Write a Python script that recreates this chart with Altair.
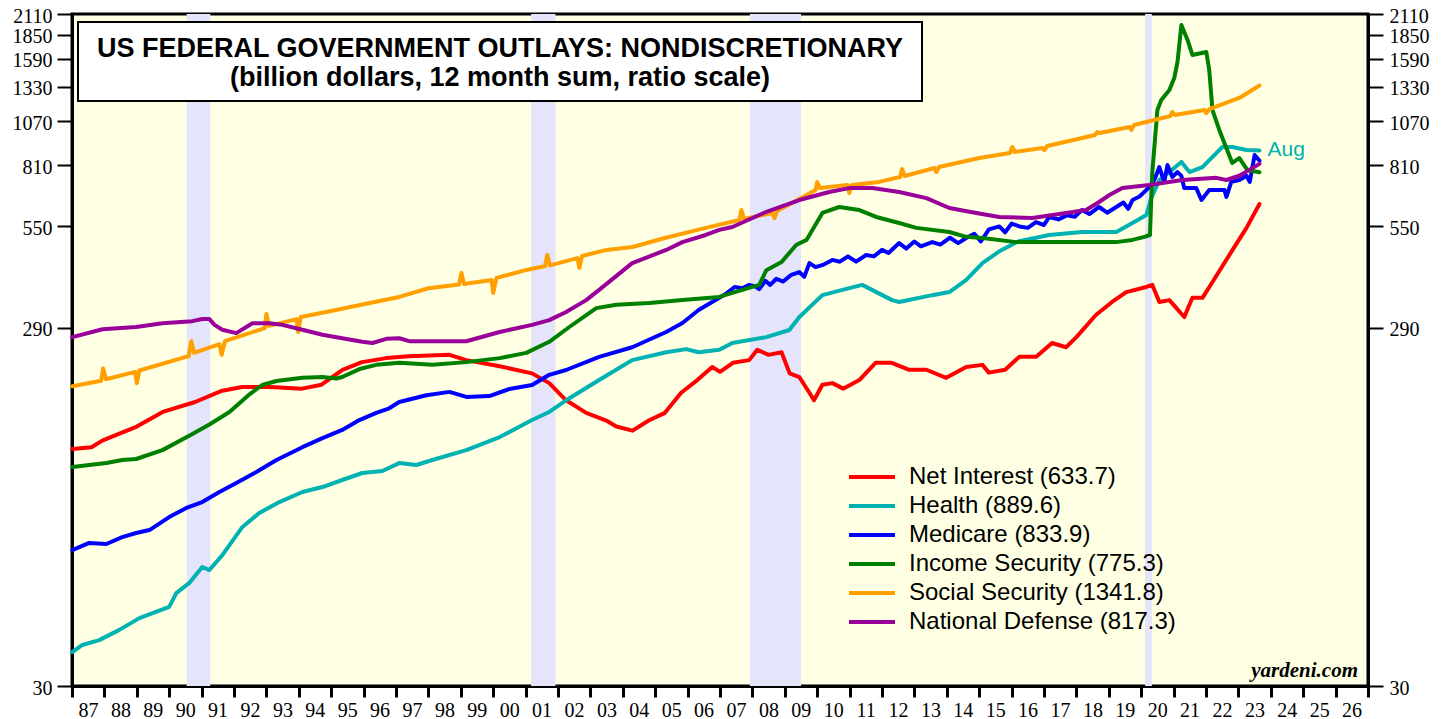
import altair as alt
import pandas as pd

# ---------------- data ----------------
SERIES = ["Net Interest (633.7)", "Health (889.6)", "Medicare (833.9)",
          "Income Security (775.3)", "Social Security (1341.8)", "National Defense (817.3)"]
COLORS = ["#FF0000", "#00B2B2", "#0000FF", "#008000", "#FFA000", "#990099"]

ni_year = [1987.01, 1987.6, 1987.95, 1989.0, 1989.8, 1990.8, 1991.6, 1992.25, 1993.1, 1994.1,
           1994.7, 1995.35, 1995.95, 1996.7, 1997.4, 1998.65, 1999.17, 2000.2, 2001.2, 2001.73,
           2002.25, 2002.87, 2003.49, 2003.8, 2004.3, 2004.8, 2005.3, 2005.8, 2006.3, 2006.76,
           2007.0, 2007.4, 2007.9, 2008.15, 2008.5, 2008.9, 2009.15, 2009.45, 2009.76, 2009.9,
           2010.16, 2010.47, 2010.8, 2011.3, 2011.8, 2012.3, 2012.84, 2013.37, 2013.98, 2014.6,
           2015.1, 2015.3, 2015.8, 2016.24, 2016.76, 2017.25, 2017.68, 2018.0, 2018.6, 2019.1,
           2019.54, 2020.16, 2020.34, 2020.56, 2020.87, 2021.33, 2021.58, 2021.89, 2022.2, 2022.82,
           2023.25, 2023.65]
ni_val = [134.5, 136, 142, 155, 170, 181, 194, 199, 199, 197,
          202, 222, 233, 239, 242, 244, 236, 227, 217, 204,
          183, 169, 161, 155, 151, 161, 169, 192, 208, 226,
          219, 232, 236, 252, 244, 248, 217, 212, 192, 183,
          202, 204, 197, 208, 232, 232, 222, 222, 211, 226,
          229, 218, 222, 241, 241, 263, 256, 273, 314, 341,
          363, 375, 380, 341, 345, 310, 350, 350, 387, 474,
          545, 633.7]

hc_year = [1987.01, 1987.32, 1987.84, 1988.46, 1989.08, 1990.0, 1990.22, 1990.62, 1991.02, 1991.24,
           1991.64, 1992.26, 1992.78, 1993.4, 1994.11, 1994.73, 1995.34, 1995.96, 1996.58, 1997.1,
           1997.63, 1998.12, 1999.17, 2000.2, 2001.2, 2001.73, 2002.25, 2003.27, 2004.29, 2005.34,
           2005.96, 2006.34, 2006.98, 2007.38, 2008.43, 2009.14, 2009.45, 2010.16, 2010.78, 2011.39,
           2012.31, 2012.53, 2013.55, 2014.08, 2014.6, 2015.1, 2015.62, 2016.2, 2017.16, 2018.17,
           2019.23, 2019.73, 2020.16, 2020.31, 2020.56, 2020.87, 2021.24, 2021.49, 2021.89, 2022.5,
           2022.81, 2023.25, 2023.65]
hc_val = [37.2, 38.9, 40.1, 42.8, 46.1, 49.5, 54.0, 57.6, 63.7, 62.5,
          68.7, 82.1, 89.7, 96.1, 102.4, 105.7, 110.5, 115.5, 117, 123,
          121.5, 125.4, 133.5, 145, 161.5, 170, 183, 208, 236, 248,
          253, 248, 252, 263, 273, 285.5, 310, 356, 368, 380,
          345, 341, 356, 363, 392, 436, 470, 500, 521, 531,
          531, 562, 591, 658, 738, 776, 827, 776, 801, 909,
          909, 892, 889.6]

mc_year = [1987.01, 1987.53, 1988.06, 1988.55, 1988.98, 1989.39, 1990.0, 1990.53, 1991.02, 1991.55,
           1992.07, 1992.69, 1993.31, 1994.11, 1994.73, 1995.34, 1995.87, 1996.39, 1996.79, 1997.1,
           1997.94, 1998.65, 1999.17, 1999.88, 2000.5, 2001.2, 2001.73, 2002.25, 2003.27, 2004.29,
           2005.34, 2005.84, 2006.34, 2006.9, 2007.2, 2007.45, 2007.69, 2007.9, 2008.1, 2008.21,
           2008.4, 2008.55, 2008.74, 2008.95, 2009.2, 2009.45, 2009.6, 2009.76, 2009.95, 2010.2,
           2010.47, 2010.7, 2010.95, 2011.2, 2011.51, 2011.75, 2012.0, 2012.2, 2012.53, 2012.75,
           2013.0, 2013.2, 2013.55, 2013.8, 2014.1, 2014.35, 2014.6, 2014.85, 2015.05, 2015.3,
           2015.62, 2015.8, 2016.0, 2016.24, 2016.5, 2016.75, 2017.0, 2017.16, 2017.45, 2017.7,
           2017.95, 2018.17, 2018.4, 2018.7, 2018.95, 2019.23, 2019.45, 2019.6, 2019.73, 2019.95,
           2020.16, 2020.25, 2020.41, 2020.56, 2020.71, 2020.81, 2020.96, 2021.12, 2021.24, 2021.33,
           2021.7, 2021.86, 2022.1, 2022.57, 2022.63, 2022.78, 2023.03, 2023.25, 2023.35, 2023.5,
           2023.65]
mc_val = [70.9, 74.2, 73.7, 77, 79, 80.5, 87.4, 92.6, 96.1, 102.4,
          108.4, 116.2, 125.4, 136, 144, 151.7, 161.5, 169, 174, 181,
          189, 193, 187, 188, 196.6, 201.6, 215, 221.7, 241, 256,
          282, 298.5, 324, 347, 360, 375, 372, 380, 376, 370,
          390, 380, 395, 388, 405, 412, 400, 436, 425, 432,
          445, 440, 455, 440, 459, 455, 474, 465, 495, 478,
          500, 485, 498, 490, 512, 495, 511, 525, 500, 540,
          550, 530, 560, 550, 545, 565, 555, 584, 575, 590,
          585, 610, 595, 622, 600, 622, 640, 615, 650, 665,
          693, 706, 740, 801, 729, 811, 752, 776, 757, 701,
          701, 650, 693, 693, 663, 729, 738, 758, 729, 864,
          833.9]

is_year = [1987.01, 1987.53, 1988.06, 1988.55, 1988.98, 1989.79, 1990.66, 1991.24, 1991.86, 1992.48,
           1992.87, 1993.31, 1994.11, 1994.73, 1995.16, 1995.34, 1995.87, 1996.39, 1997.1, 1998.12,
           1999.17, 2000.2, 2001.02, 2001.73, 2002.35, 2003.18, 2003.8, 2004.82, 2005.84, 2006.98,
           2007.38, 2008.21, 2008.43, 2008.9, 2009.35, 2009.67, 2010.16, 2010.68, 2011.3, 2011.82,
           2012.53, 2013.06, 2014.08, 2014.6, 2015.1, 2016.15, 2017.16, 2018.17, 2019.23, 2019.73,
           2020.1, 2020.27, 2020.34, 2020.5, 2020.62, 2020.87, 2021.02, 2021.12, 2021.24, 2021.43,
           2021.58, 2022.01, 2022.1, 2022.2, 2022.41, 2022.81, 2023.03, 2023.28, 2023.65]
is_val = [120, 121.5, 123, 125.4, 126.2, 133.5, 147, 157, 170, 190,
          201.6, 206.8, 211, 212, 210, 212, 223, 229, 232, 229,
          233, 239, 247, 265, 291, 328, 335, 339, 345, 352,
          361, 380, 417, 439, 489, 505, 599, 622, 610, 584,
          562, 545, 531, 515, 511, 498, 498, 498, 498, 505,
          515, 521, 771, 1149, 1225, 1304, 1407, 1557, 1968, 1790,
          1628, 1659, 1480, 1149, 1013, 822, 848, 786, 775.3]

ss_year = [1987.01, 1987.9, 1987.96, 1988.05, 1988.95, 1989.0, 1989.08, 1990.6, 1990.68, 1990.77,
           1991.55, 1991.62, 1991.72, 1992.95, 1993.0, 1993.08, 1993.93, 1993.98, 1994.06, 1995.0,
           1996.0, 1997.1, 1998.0, 1998.95, 1999.02, 1999.1, 1999.95, 2000.0, 2000.1, 2001.0,
           2001.6, 2001.67, 2001.75, 2002.6, 2002.66, 2002.74, 2003.5, 2004.3, 2005.3, 2006.56,
           2007.6, 2007.66, 2007.74, 2008.62, 2008.68, 2008.76, 2009.67, 2009.95, 2010.0, 2010.08,
           2010.94, 2010.99, 2011.07, 2011.91, 2012.56, 2012.62, 2012.7, 2013.62, 2013.68, 2013.76,
           2015.0, 2015.95, 2016.02, 2016.1, 2016.95, 2017.01, 2017.1, 2018.58, 2018.64, 2018.72,
           2019.64, 2019.7, 2019.78, 2020.9, 2020.96, 2021.04, 2021.95, 2022.01, 2022.1, 2023.03,
           2023.65]
ss_val = [200, 207, 224, 209, 219, 204, 221, 242, 266, 247,
          261, 244, 266, 289, 316, 293, 306, 282, 310, 322,
          336, 352, 372, 381, 410, 382, 392, 361, 397, 417,
          428, 459, 430, 450, 423, 456, 474, 483, 511, 545,
          573, 610, 577, 599, 580, 606, 671, 693, 729, 701,
          715, 680, 715, 729, 752, 791, 757, 796, 776, 801,
          848, 875, 909, 881, 904, 892, 915, 981, 1000, 993,
          1032, 1013, 1045, 1106, 1135, 1113, 1149, 1127, 1156, 1240,
          1341.8]

nd_year = [1987.01, 1987.94, 1988.98, 1989.79, 1990.71, 1991.02, 1991.24, 1991.4, 1991.64, 1992.07,
           1992.57, 1993.09, 1993.49, 1994.11, 1994.73, 1995.34, 1995.96, 1996.27, 1996.7, 1997.1,
           1997.41, 1998.12, 1999.17, 2000.2, 2001.2, 2001.73, 2002.25, 2002.87, 2003.27, 2004.29,
           2005.34, 2005.84, 2006.56, 2006.98, 2007.38, 2008.43, 2009.45, 2010.37, 2010.99, 2011.7,
           2012.53, 2013.37, 2014.08, 2014.91, 2015.62, 2016.64, 2017.68, 2018.3, 2018.7, 2019.02,
           2019.42, 2020.25, 2021.27, 2022.32, 2022.63, 2023.03, 2023.65]
nd_val = [273, 287, 291, 298, 302, 306, 306, 295, 286, 280,
          298, 298, 295, 286, 277, 271, 265, 263, 270, 271,
          266, 266, 266, 282, 295, 304, 320, 345, 368, 436,
          474, 498, 521, 538, 548, 603, 650, 684, 701, 701,
          684, 658, 618, 599, 584, 580, 599, 610, 642, 671,
          701, 715, 738, 748, 738, 758, 817.3]

REC_START = [1990.54, 2001.17, 2007.92, 2020.12]
REC_END = [1991.27, 2001.92, 2009.5, 2020.33]

Y_TICKS = [30, 290, 550, 810, 1070, 1330, 1590, 1850, 2110]
X_TICKS = list(range(1987, 2028))
TITLE_1 = "US FEDERAL GOVERNMENT OUTLAYS: NONDISCRETIONARY"
TITLE_2 = "(billion dollars, 12 month sum, ratio scale)"
LAST_LABEL = "Aug"
SOURCE = "yardeni.com"

# ---------------- tables ----------------
rows = []
for name, ys, vs in zip(SERIES,
                        [ni_year, hc_year, mc_year, is_year, ss_year, nd_year],
                        [ni_val, hc_val, mc_val, is_val, ss_val, nd_val]):
    for yr, v in zip(ys, vs):
        rows.append({"year": yr, "value": v, "series": name})
df = pd.DataFrame(rows)
rec = pd.DataFrame({"start": REC_START, "end": REC_END,
                    "lo": [Y_TICKS[0]] * len(REC_START), "hi": [Y_TICKS[-1]] * len(REC_START)})
aug_df = pd.DataFrame({"year": [hc_year[-1]], "value": [hc_val[-1]], "label": [LAST_LABEL]})
one = pd.DataFrame({"a": [0]})

# ---------------- scales / axes ----------------
W, H = 1296, 672
xscale = alt.Scale(domain=[1987, 2027], nice=False, zero=False)
yscale = alt.Scale(type="log", domain=[30, 2110], nice=False)

x_axis = alt.Axis(values=X_TICKS, title=None, grid=False,
                  labelExpr="datum.value >= 2027 ? '' : substring(toString(datum.value), 2, 4)",
                  labelOffset=16, labelFlush=False, labelOverlap=False,
                  tickSize=11, tickWidth=3, tickColor="black",
                  domainColor="black", domainWidth=3,
                  labelFont="Liberation Serif", labelFontSize=20, labelColor="black",
                  labelPadding=3)
y_common = dict(values=Y_TICKS, title=None, grid=False, format="d",
                labelFlush=False, labelOverlap=False, labelOffset=2,
                tickSize=15, tickWidth=2, tickColor="black",
                domainColor="black", domainWidth=3,
                labelFont="Liberation Serif", labelFontSize=20, labelColor="black")
y_left = alt.Axis(orient="left", labelPadding=5, **y_common)
y_right = alt.Axis(orient="right", labelPadding=6, **y_common)

# ---------------- layers ----------------
bands = alt.Chart(rec).mark_rect(color="#E4E4FA").encode(
    x=alt.X("start:Q", scale=xscale, axis=x_axis),
    x2="end:Q",
    y=alt.Y("lo:Q", scale=yscale, axis=y_left),
    y2="hi:Q",
)

legend = alt.Legend(title=None, orient="none", legendX=786.5, legendY=449.5,
                    symbolType="M-2,0H2", symbolSize=529, symbolStrokeWidth=4,
                    labelFont="Liberation Sans", labelFontSize=24, labelColor="black",
                    labelLimit=600, labelOffset=23.5, rowPadding=3, padding=0,
                    direction="vertical")

lines = alt.Chart(df).mark_line(strokeWidth=4, strokeJoin="round", strokeCap="round").encode(
    x=alt.X("year:Q", scale=xscale, axis=x_axis),
    y=alt.Y("value:Q", scale=yscale, axis=y_right),
    color=alt.Color("series:N", scale=alt.Scale(domain=SERIES, range=COLORS),
                    sort=SERIES, legend=legend),
)

aug = alt.Chart(aug_df).mark_text(align="left", baseline="middle", dx=8,
                                   font="Liberation Sans", fontSize=21,
                                   color=COLORS[1]).encode(
    x=alt.X("year:Q", scale=xscale, axis=x_axis),
    y=alt.Y("value:Q", scale=yscale, axis=None),
    text="label:N",
)

box = alt.Chart(one).mark_rect(fill="white", stroke="black", strokeWidth=2).encode(
    x=alt.value(6), x2=alt.value(850), y=alt.value(8), y2=alt.value(87))

t1 = alt.Chart(one).mark_text(text=TITLE_1, align="center", baseline="alphabetic",
                              font="Liberation Sans", fontWeight="bold", fontSize=27,
                              color="black").encode(x=alt.value(428), y=alt.value(43))
t2 = alt.Chart(one).mark_text(text=TITLE_2, align="center", baseline="alphabetic",
                              font="Liberation Sans", fontWeight="bold", fontSize=27,
                              color="black").encode(x=alt.value(428), y=alt.value(72))

src = alt.Chart(one).mark_text(text=SOURCE, align="right", baseline="alphabetic",
                               font="Liberation Serif", fontStyle="italic", fontWeight="bold",
                               fontSize=21, color="black").encode(x=alt.value(1286), y=alt.value(663))

chart = alt.layer(bands, lines, aug, box, t1, t2, src).resolve_axis(
    y="independent"
).properties(
    width=W, height=H,
    padding={"left": 64, "top": 6, "right": 62, "bottom": 40},
    autosize=alt.AutoSizeParams(type="none"),
    background="white",
).configure_view(fill="#FFFFE3", stroke="black", strokeWidth=3)

chart.save("out.html", embed_options={"renderer": "svg", "actions": False})
